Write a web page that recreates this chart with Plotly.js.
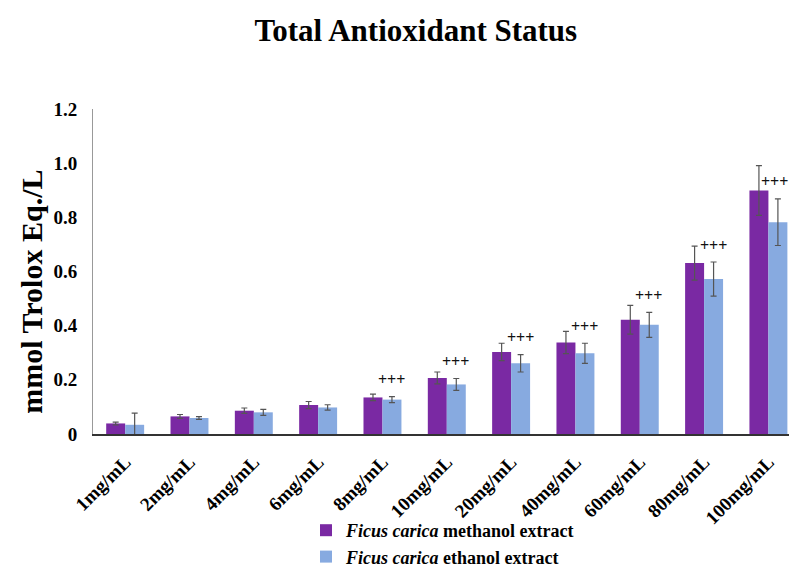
<!DOCTYPE html>
<html><head><meta charset="utf-8">
<script src="https://cdn.plot.ly/plotly-3.0.1.min.js"></script>
<style>html,body{margin:0;padding:0;background:#fff}#chart{width:789px;height:569px}</style>
</head><body><div id="chart"></div>
<script>
const categories = ["1mg/mL","2mg/mL","4mg/mL","6mg/mL","8mg/mL","10mg/mL","20mg/mL","40mg/mL","60mg/mL","80mg/mL","100mg/mL"];
const methanolValues = [0.039,0.065,0.086,0.107,0.135,0.207,0.303,0.338,0.422,0.631,0.899];
const methanolErrors = [0.005,0.007,0.010,0.013,0.012,0.022,0.032,0.041,0.053,0.063,0.092];
const ethanolValues = [0.034,0.059,0.080,0.098,0.127,0.183,0.261,0.298,0.403,0.572,0.782];
const ethanolErrors = [0.043,0.005,0.011,0.010,0.011,0.022,0.032,0.037,0.046,0.063,0.086];
const significance = ["","","","","+++","+++","+++","+++","+++","+++","+++"];
const seriesNames = ["<b><i>Ficus carica</i> methanol extract</b>","<b><i>Ficus carica</i> ethanol extract</b>"];
const yTickVals = [0,0.2,0.4,0.6,0.8,1.0,1.2];
const yTickText = ["0","0.2","0.4","0.6","0.8","1.0","1.2"];
const yTitle = "mmol Trolox Eq./L";
const chartTitle = "Total Antioxidant Status";

const serif = "'Liberation Serif','Times New Roman',serif";
const errStyle = {type:'data', visible:true, color:'#555', thickness:1.2, width:3};

const traces = [
  {type:'bar', name:seriesNames[0], x:categories, y:methanolValues,
   marker:{color:'#7A29A3'}, error_y:Object.assign({array:methanolErrors}, errStyle)},
  {type:'bar', name:seriesNames[1], x:categories, y:ethanolValues,
   marker:{color:'#87AAE0'}, error_y:Object.assign({array:ethanolErrors}, errStyle)}
];

const annotations = [];
categories.forEach((c,i)=>{
  if(significance[i]){
    annotations.push({x:c, y:ethanolValues[i]+ethanolErrors[i], xref:'x', yref:'y',
      text:'<b>'+significance[i]+'</b>', showarrow:false, xshift:(i===categories.length-1?6:9), yshift:17, yanchor:'middle',
      font:{family:serif, size:16, color:'#111'}});
  }
});
annotations.push({xref:'paper', yref:'paper', x:-0.088, y:0.437, xanchor:'center', yanchor:'middle',
  text:'<b>'+yTitle+'</b>', textangle:-90, showarrow:false, font:{family:serif, size:30, color:'#000'}});

const layout = {
  width:789, height:569,
  margin:{l:93, r:0, t:109, b:135, autoexpand:false},
  paper_bgcolor:'#fff', plot_bgcolor:'#fff',
  title:{text:'<b>'+chartTitle+'</b>', font:{family:serif, size:31, color:'#000'}, x:0.527, xanchor:'center', xref:'container', y:0.947, yanchor:'middle'},
  barmode:'group', bargap:0.41, bargroupgap:0,
  xaxis:{range:[-0.5,10.32], automargin:false, showline:true, linecolor:'#333', linewidth:1.5, ticks:'', tickangle:-45,
         ticklabelstandoff:8,
         tickfont:{family:serif, size:19, color:'#000', weight:'bold'}, showgrid:false, zeroline:false, fixedrange:true},
  yaxis:{range:[0,1.2], automargin:false, tickvals:yTickVals, ticktext:yTickText.map(t=>'<b>'+t+'</b>'),
         showline:true, linecolor:'#999', linewidth:1, ticks:'', ticklabelstandoff:11, showgrid:false, zeroline:false,
         tickfont:{family:serif, size:19, color:'#000'}},
  showlegend:true,
  legend:{orientation:'v', x:0.306, xanchor:'left', y:-0.24, yanchor:'top', bgcolor:'rgba(0,0,0,0)',
          font:{family:serif, size:18, color:'#000', weight:700},
          tracegroupgap:0, itemwidth:30, traceorder:'normal'},
  annotations:annotations
};

Plotly.newPlot('chart', traces, layout, {displayModeBar:false, staticPlot:true});
</script></body></html>
